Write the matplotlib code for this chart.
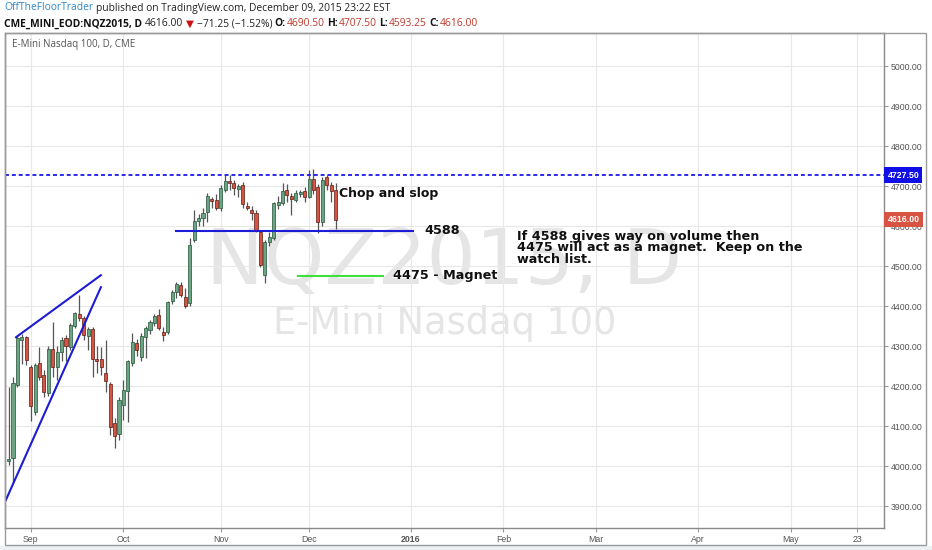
import numpy as np
import pandas as pd
import matplotlib
matplotlib.use('Agg')
import matplotlib.pyplot as plt
import matplotlib.transforms as mtransforms
from matplotlib.patches import Rectangle

# --- данные: дневные свечи NQZ2015 ---
dates = ['2015-08-25', '2015-08-26', '2015-08-27', '2015-08-28', '2015-08-31',
         '2015-09-01', '2015-09-02', '2015-09-03', '2015-09-04', '2015-09-08',
         '2015-09-09', '2015-09-10', '2015-09-11', '2015-09-14', '2015-09-15',
         '2015-09-16', '2015-09-17', '2015-09-18', '2015-09-21', '2015-09-22',
         '2015-09-23', '2015-09-24', '2015-09-25', '2015-09-28', '2015-09-29',
         '2015-09-30', '2015-10-01', '2015-10-02', '2015-10-05', '2015-10-06',
         '2015-10-07', '2015-10-08', '2015-10-09', '2015-10-12', '2015-10-13',
         '2015-10-14', '2015-10-15', '2015-10-16', '2015-10-19', '2015-10-20',
         '2015-10-21', '2015-10-22', '2015-10-23', '2015-10-26', '2015-10-27',
         '2015-10-28', '2015-10-29', '2015-10-30', '2015-11-02', '2015-11-03',
         '2015-11-04', '2015-11-05', '2015-11-06', '2015-11-09', '2015-11-10',
         '2015-11-11', '2015-11-12', '2015-11-13', '2015-11-16', '2015-11-17',
         '2015-11-18', '2015-11-19', '2015-11-20', '2015-11-23', '2015-11-24',
         '2015-11-25', '2015-11-27', '2015-11-30', '2015-12-01', '2015-12-02',
         '2015-12-03', '2015-12-04', '2015-12-07', '2015-12-08', '2015-12-09']

opens = [4012, 4020, 4202, 4315, 4322,
         4247, 4135, 4257, 4227, 4182,
         4292, 4247, 4285, 4320, 4297,
         4350, 4380, 4370, 4325, 4342,
         4267, 4267, 4232, 4205, 4107,
         4080, 4152, 4187, 4257, 4307,
         4272, 4322, 4340, 4357, 4377,
         4335, 4335, 4412, 4435, 4452,
         4422, 4407, 4565, 4612, 4620,
         4635, 4667, 4665, 4645, 4690,
         4712, 4707, 4692, 4702, 4650,
         4640, 4632, 4585, 4477, 4560,
         4570, 4652, 4657, 4690, 4675,
         4665, 4680, 4687, 4672, 4717,
         4697, 4610, 4722, 4702, 4690.5]

highs = [4197, 4222, 4327, 4330, 4325,
         4252, 4257, 4297, 4240, 4300,
         4360, 4300, 4322, 4327, 4357,
         4385, 4427, 4375, 4347, 4347,
         4300, 4297, 4315, 4210, 4120,
         4172, 4215, 4265, 4332, 4317,
         4332, 4350, 4365, 4380, 4392,
         4347, 4412, 4440, 4460, 4460,
         4445, 4570, 4640, 4630, 4645,
         4682, 4672, 4680, 4702, 4727,
         4727, 4715, 4705, 4710, 4660,
         4650, 4640, 4590, 4565, 4585,
         4660, 4675, 4707, 4705, 4682,
         4690, 4690, 4697, 4740, 4742,
         4705, 4722, 4728, 4710, 4707.5]

lows = [4002, 3957, 4197, 4255, 4252,
        4112, 4128, 4215, 4172, 4175,
        4222, 4215, 4262, 4262, 4290,
        4345, 4362, 4315, 4290, 4222,
        4232, 4227, 4185, 4077, 4045,
        4065, 4115, 4110, 4250, 4275,
        4262, 4270, 4330, 4350, 4340,
        4312, 4330, 4405, 4420, 4422,
        4395, 4400, 4560, 4600, 4600,
        4610, 4645, 4640, 4637, 4685,
        4690, 4677, 4672, 4645, 4640,
        4615, 4585, 4497, 4457, 4550,
        4565, 4642, 4652, 4660, 4627,
        4660, 4672, 4660, 4670, 4680,
        4582, 4600, 4690, 4660, 4593.25]

closes = [4018, 4207, 4320, 4322, 4265,
          4150, 4252, 4222, 4185, 4292,
          4247, 4285, 4315, 4300, 4352,
          4382, 4370, 4327, 4342, 4267,
          4262, 4247, 4212, 4097, 4075,
          4165, 4190, 4262, 4310, 4290,
          4325, 4345, 4360, 4375, 4345,
          4327, 4410, 4435, 4455, 4427,
          4400, 4552, 4612, 4620, 4632,
          4675, 4662, 4645, 4695, 4712,
          4707, 4695, 4700, 4655, 4645,
          4632, 4590, 4502, 4560, 4572,
          4657, 4660, 4687, 4677, 4667,
          4682, 4685, 4672, 4717, 4690,
          4610, 4715, 4702, 4687, 4616]

last_date = '2016-05-23'   # правый край шкалы времени

# уровни и аннотации (цена, начало, конец в номерах баров)
resist_level = 4727.5
level_4588 = [4588, 38, 91.5]
level_4475 = [4475, 65.6, 84.7]
wedge_upper = [[1.7, 20.9], [4322, 4477]]
wedge_lower = [[-0.6, 20.9], [3915, 4447]]

y_ticks = [3900, 4000, 4100, 4200, 4300, 4400, 4500, 4600, 4700, 4800, 4900, 5000]

note_text = 'If 4588 gives way on volume then\n4475 will act as a magnet.  Keep on the\nwatch list.'

# --- ось времени: торговые дни + будущие рабочие дни ---
trade_dates = pd.to_datetime(dates)
future = pd.bdate_range(trade_dates[-1] + pd.Timedelta(days=1), last_date)
all_dates = trade_dates.append(future)

tick_pos = []
tick_lab = []
for i in range(1, len(all_dates)):
    if all_dates[i].month != all_dates[i - 1].month:
        tick_pos.append(i)
        tick_lab.append('2016' if all_dates[i].month == 1 else all_dates[i].strftime('%b'))
tick_pos.append(len(all_dates) - 1)
tick_lab.append(str(all_dates[-1].day))

# --- рисунок ---
plt.rcParams['font.family'] = ['DejaVu Sans']
W, H = 932, 550
fig = plt.figure(figsize=(W / 100, H / 100), dpi=100, facecolor='white')
ax = fig.add_axes([5 / W, 22 / H, 879 / W, 495 / H])
ax.set_facecolor('white')

# рамка вокруг графика и полоса снизу
fig.patches.append(Rectangle((0, 0), 1, 4 / H, transform=fig.transFigure,
                             facecolor='#eef1f4', edgecolor='none', zorder=0))
fig.patches.append(Rectangle((5 / W, 5 / H), 921 / W, 512 / H, transform=fig.transFigure,
                             facecolor='none', edgecolor='#9a9a9a', lw=1.0, zorder=5))

# водяной знак
ax.text(0.5, 0.535, 'NQZ2015, D', transform=ax.transAxes, ha='center', va='center',
        fontsize=55.5, color='#e5e5e5', zorder=0)
ax.text(0.5, 0.414, 'E-Mini Nasdaq 100', transform=ax.transAxes, ha='center', va='center',
        fontsize=26.5, color='#e5e5e5', zorder=0)

# свечи
for i in range(len(dates)):
    o, h, l, c = opens[i], highs[i], lows[i], closes[i]
    up = c >= o
    body_col = '#6ba583' if up else '#d75442'
    edge_col = '#225437' if up else '#5b1a13'
    ax.vlines(i, l, h, color='#555555', lw=0.9, zorder=3)
    ax.bar(i, max(abs(c - o), 1.0), bottom=min(o, c), width=0.7,
           color=body_col, edgecolor=edge_col, lw=0.5, zorder=4)

# линии
ax.axhline(resist_level, color='#1a1aee', lw=1.3, ls=(0, (2.2, 1.6)), zorder=5)
ax.plot([level_4588[1], level_4588[2]], [level_4588[0]] * 2, color='#1c1cd6', lw=1.5, zorder=5)
ax.plot([level_4475[1], level_4475[2]], [level_4475[0]] * 2, color='#3ee03e', lw=1.5, zorder=5)
ax.plot(wedge_upper[0], wedge_upper[1], color='#1c1cd6', lw=1.5, zorder=5)
ax.plot(wedge_lower[0], wedge_lower[1], color='#1c1cd6', lw=1.5, zorder=5)

# подписи на графике
ax.text(74.8, 4682, 'Chop and slop', fontsize=9, fontweight='bold', color='#111111',
        va='center', ha='left', zorder=6)
ax.text(94, 4590, '4588', fontsize=9.2, fontweight='bold', color='#111111',
        va='center', ha='left', zorder=6)
ax.text(87, 4477, '4475 - Magnet', fontsize=9.2, fontweight='bold', color='#111111',
        va='center', ha='left', zorder=6)
ax.text(115, 4591, note_text, fontsize=9.2, fontweight='bold', color='#111111',
        va='top', ha='left', linespacing=0.86, zorder=6)

# заголовок внутри графика
ax.text(7 / 879, (528 - 44) / 495, 'E-Mini Nasdaq 100, D, CME', transform=ax.transAxes,
        fontsize=7, color='#555555', va='center', ha='left', family=['Open Sans', 'DejaVu Sans'])

# оси
ax.set_xlim(-0.8, 198.1)
ax.set_ylim(3845, 5082.5)
ax.yaxis.tick_right()
ax.set_yticks(y_ticks)
ax.set_yticklabels(['%.2f' % v for v in y_ticks])
ax.set_xticks(tick_pos)
ax.set_xticklabels(tick_lab)
for lab in ax.get_xticklabels():
    if lab.get_text() == '2016':
        lab.set_fontweight('bold')
ax.tick_params(axis='both', labelsize=6.3, labelcolor='#555555', color='#999999',
               length=3, width=0.8, pad=2)
for lab in ax.get_xticklabels() + ax.get_yticklabels():
    lab.set_family(['Liberation Sans', 'DejaVu Sans'])
ax.grid(True, color='#e8e8e8', lw=0.8, zorder=0)
ax.set_axisbelow(True)
for s in ax.spines.values():
    s.set_color('#8a8a8a')
    s.set_linewidth(1.0)

# метки цены на правой шкале
trans = mtransforms.blended_transform_factory(ax.transAxes, ax.transData)
ax.text(1.004, resist_level, '%.2f' % resist_level, transform=trans, fontsize=6.3,
        fontweight='bold', color='white', va='center', ha='left', zorder=7, clip_on=False,
        family=['Liberation Sans', 'DejaVu Sans'],
        bbox=dict(boxstyle='square,pad=0.35', facecolor='#1010e6', edgecolor='none'))
ax.text(1.004, closes[-1], '%.2f' % closes[-1], transform=trans, fontsize=6.3,
        fontweight='bold', color='white', va='center', ha='left', zorder=7, clip_on=False,
        family=['Liberation Sans', 'DejaVu Sans'],
        bbox=dict(boxstyle='square,pad=0.35', facecolor='#d75442', edgecolor='none'))

# шапка в две строки из разноцветных кусков
fig.canvas.draw()
rend = fig.canvas.get_renderer()

def draw_parts(x_px, y_px, parts, size):
    for s, col, wt, gap in parts:
        t = fig.text(x_px / W, 1 - y_px / H, s, color=col, fontweight=wt, fontsize=size,
                     va='center', ha='left', family=['Open Sans', 'DejaVu Sans'])
        bb = t.get_window_extent(renderer=rend)
        x_px += bb.width + gap

sp = 2.8
draw_parts(4, 8, [
    ('OffTheFloorTrader', '#2e86c8', 'normal', sp),
    ('published on TradingView.com, December 09, 2015 23:22 EST', '#222222', 'normal', 0),
], 7.35)
red = '#c0392b'
draw_parts(4, 24, [
    ('CME_MINI_EOD:NQZ2015, D', '#111111', 'bold', sp),
    ('4616.00', '#222222', 'normal', sp),
    ('▼', '#cc1111', 'normal', sp),
    ('\u221271.25 (\u22121.52%)', '#222222', 'normal', sp),
    ('O:', '#111111', 'bold', 0.5),
    ('4690.50', red, 'normal', sp),
    ('H:', '#111111', 'bold', 0.5),
    ('4707.50', red, 'normal', sp),
    ('L:', '#111111', 'bold', 0.5),
    ('4593.25', red, 'normal', sp),
    ('C:', '#111111', 'bold', 0.5),
    ('4616.00', red, 'normal', 0),
], 7.35)

fig.savefig('out.png', dpi=100, facecolor='white')
